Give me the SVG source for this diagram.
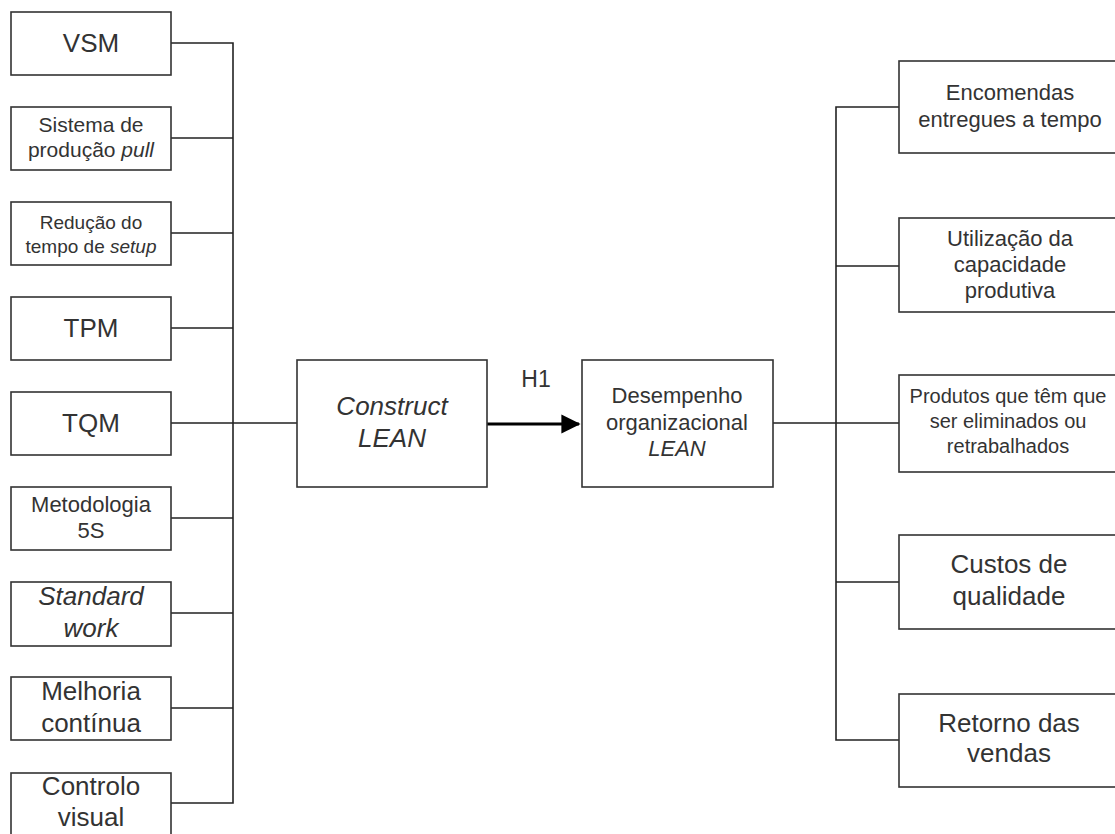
<svg xmlns="http://www.w3.org/2000/svg" width="1115" height="834" viewBox="0 0 1115 834">
<style>
.box{fill:#fff;stroke:#333;stroke-width:1.6}
.ln{fill:none;stroke:#222;stroke-width:1.6}
.t{font-family:"Liberation Sans",Arial,sans-serif;fill:#333;text-anchor:middle}
.i{font-style:italic}
</style>
<defs>
<marker id="ah" markerWidth="6" markerHeight="6" refX="5.5" refY="3" orient="auto" markerUnits="strokeWidth">
<path d="M0,0 L6,3 L0,6 Z" fill="#000"/>
</marker>
</defs>
<rect width="1115" height="834" fill="#fff"/>
<g id="connectors">
<path class="ln" d="M171,43 H233 V803 H171"/>
<path class="ln" d="M171,138 H233 M171,233 H233 M171,328 H233 M171,423 H297 M171,518 H233 M171,613 H233 M171,708 H233"/>
<path d="M487,424 H579" stroke="#000" stroke-width="3.2" fill="none" marker-end="url(#ah)"/>
<path class="ln" d="M899,107 H836 V740 H899"/>
<path class="ln" d="M836,266 H899 M773,423 H899 M836,582 H899"/>
</g>
<g id="vsm"><rect class="box" x="11" y="12" width="160" height="63"/><text class="t" x="91" y="52" font-size="26">VSM</text></g>
<g id="pull"><rect class="box" x="11" y="107" width="160" height="63"/><text class="t" x="91" y="132" font-size="21">Sistema de</text><text class="t" x="91" y="157" font-size="21">produção <tspan class="i">pull</tspan></text></g>
<g id="setup"><rect class="box" x="11" y="202" width="160" height="63"/><text class="t" x="91" y="229" font-size="19">Redução do</text><text class="t" x="91" y="253" font-size="19">tempo de <tspan class="i">setup</tspan></text></g>
<g id="tpm"><rect class="box" x="11" y="297" width="160" height="63"/><text class="t" x="91" y="337" font-size="26">TPM</text></g>
<g id="tqm"><rect class="box" x="11" y="392" width="160" height="63"/><text class="t" x="91" y="432" font-size="26">TQM</text></g>
<g id="5s"><rect class="box" x="11" y="487" width="160" height="63"/><text class="t" x="91" y="512" font-size="22">Metodologia</text><text class="t" x="91" y="538" font-size="22">5S</text></g>
<g id="standard"><rect class="box" x="11" y="582" width="160" height="64"/><text class="t i" x="91" y="605" font-size="26">Standard</text><text class="t i" x="91" y="637" font-size="26">work</text></g>
<g id="melhoria"><rect class="box" x="11" y="677" width="160" height="63"/><text class="t" x="91" y="700" font-size="26">Melhoria</text><text class="t" x="91" y="732" font-size="26">contínua</text></g>
<g id="controlo"><rect class="box" x="11" y="773" width="160" height="80"/><text class="t" x="91" y="795" font-size="26">Controlo</text><text class="t" x="91" y="826" font-size="26">visual</text></g>
<g id="construct"><rect class="box" x="297" y="360" width="190" height="127"/><text class="t i" x="392" y="415" font-size="26">Construct</text><text class="t i" x="392" y="447" font-size="26">LEAN</text></g>
<g id="h1"><text class="t" x="536" y="387" font-size="23">H1</text></g>
<g id="desempenho"><rect class="box" x="582" y="360" width="191" height="127"/><text class="t" x="677" y="403" font-size="22">Desempenho</text><text class="t" x="677" y="430" font-size="22">organizacional</text><text class="t i" x="677" y="456" font-size="22">LEAN</text></g>
<g id="encomendas"><rect class="box" x="899" y="61" width="230" height="92"/><text class="t" x="1010" y="100" font-size="22">Encomendas</text><text class="t" x="1010" y="127" font-size="22">entregues a tempo</text></g>
<g id="utilizacao"><rect class="box" x="899" y="218" width="230" height="94"/><text class="t" x="1010" y="246" font-size="22">Utilização da</text><text class="t" x="1010" y="272" font-size="22">capacidade</text><text class="t" x="1010" y="298" font-size="22">produtiva</text></g>
<g id="produtos"><rect class="box" x="899" y="375" width="230" height="97"/><text class="t" x="1008" y="403" font-size="20">Produtos que têm que</text><text class="t" x="1008" y="428" font-size="20">ser eliminados ou</text><text class="t" x="1008" y="453" font-size="20">retrabalhados</text></g>
<g id="custos"><rect class="box" x="899" y="535" width="230" height="94"/><text class="t" x="1009" y="573" font-size="26">Custos de</text><text class="t" x="1009" y="605" font-size="26">qualidade</text></g>
<g id="retorno"><rect class="box" x="899" y="694" width="230" height="93"/><text class="t" x="1009" y="732" font-size="26">Retorno das</text><text class="t" x="1009" y="762" font-size="26">vendas</text></g>
</svg>
